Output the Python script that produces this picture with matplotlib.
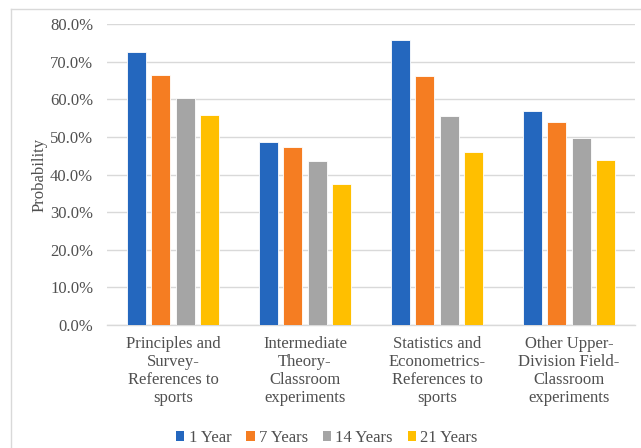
import matplotlib
matplotlib.use("Agg")
import matplotlib.pyplot as plt
import numpy as np
from matplotlib.ticker import FuncFormatter
from matplotlib.lines import Line2D
from matplotlib.patches import Patch

categories = [
    "Principles and\nSurvey-\nReferences to\nsports",
    "Intermediate\nTheory-\nClassroom\nexperiments",
    "Statistics and\nEconometrics-\nReferences to\nsports",
    "Other Upper-\nDivision Field-\nClassroom\nexperiments",
]
series_names = ["1 Year", "7 Years", "14 Years", "21 Years"]
year_1 = [72.5, 48.7, 75.8, 57.0]
year_7 = [66.4, 47.4, 66.3, 54.0]
year_14 = [60.4, 43.7, 55.5, 49.7]
year_21 = [55.9, 37.6, 46.1, 43.9]
y_ticks = [0, 10, 20, 30, 40, 50, 60, 70, 80]

colors = ["#2467BE", "#F57D22", "#A5A5A5", "#FFBF00"]
text_color = "#505050"

plt.rcParams["font.family"] = ["Liberation Serif", "DejaVu Serif"]

fig = plt.figure(figsize=(6.41, 4.48), dpi=100)
ax = fig.add_axes([107 / 641, 123 / 448, 528 / 641, 300.7 / 448])

series = [year_1, year_7, year_14, year_21]
x = np.arange(len(categories))
width = 0.144
step = 0.182
for i, (vals, c) in enumerate(zip(series, colors)):
    offs = (i - 1.5) * step
    ax.bar(x + offs, vals, width=width, color=c, edgecolor="white",
           linewidth=0.6, zorder=3, label=series_names[i])

ax.set_xlim(-0.5, len(categories) - 0.5)
ax.set_ylim(0, 80)
ax.set_yticks(y_ticks)
ax.yaxis.set_major_formatter(FuncFormatter(lambda v, p: f"{v:.1f}%"))
ax.grid(axis="y", color="#D9D9D9", linewidth=1.0, zorder=0)
for s in ["top", "right", "left"]:
    ax.spines[s].set_visible(False)
ax.spines["bottom"].set_color("#D9D9D9")
ax.spines["bottom"].set_linewidth(1.0)
ax.tick_params(axis="both", length=0, labelsize=12, colors=text_color)
ax.tick_params(axis="y", pad=10)
ax.tick_params(axis="x", pad=8)
ax.set_xticks(x)
ax.set_xticklabels(categories, linespacing=1.17)
ax.set_ylabel("Probability", fontsize=12, color=text_color, labelpad=2)

handles = [Patch(facecolor=c, edgecolor="none") for c in colors]
fig.legend(handles, series_names, loc="center", bbox_to_anchor=(0.51, 10 / 448),
           ncol=4, frameon=False, fontsize=12, handlelength=0.5,
           handleheight=0.5, handletextpad=0.25, columnspacing=0.9,
           labelcolor=text_color)

# chart frame
fig.add_artist(Line2D([11 / 641, 11 / 641], [0, 1 - 9 / 448], color="#D9D9D9",
                      linewidth=1.0, transform=fig.transFigure))
fig.add_artist(Line2D([11 / 641, 1], [1 - 9 / 448, 1 - 9 / 448], color="#D9D9D9",
                      linewidth=1.0, transform=fig.transFigure))

fig.savefig("out.png", dpi=100)
